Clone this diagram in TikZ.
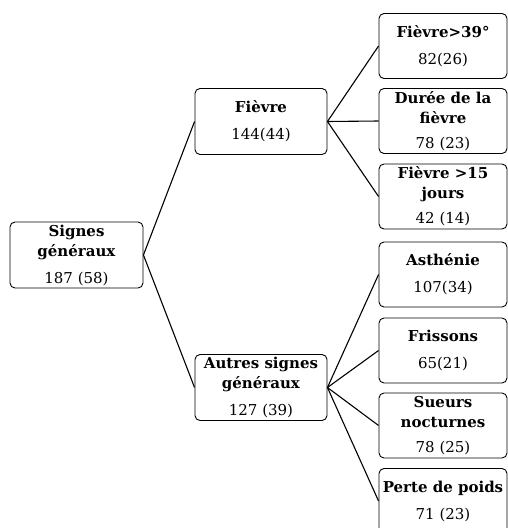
\documentclass[tikz,border=0pt]{standalone}
\usepackage{fontspec}
\setmainfont{DejaVu Serif}
\begin{document}
\begin{tikzpicture}[x=1pt,y=-1pt,
  box/.style={draw=black, line width=0.9pt, rounded corners=5pt, align=center, inner sep=0pt, font=\fontsize{15}{20}\selectfont},
  lbox/.style={box, minimum width=133pt, minimum height=66pt},
  mbox/.style={box, minimum width=132pt, minimum height=66pt},
  rbox/.style={box, minimum width=128pt, minimum height=65pt},
  link/.style={line width=1.1pt}]
\useasboundingbox (0,0) rectangle (508,528);
\node[lbox] (sg) at (76.5,255) {\textbf{Signes}\\\textbf{généraux}\\[7pt]187 (58)};
\node[mbox] (fv) at (261,121.5) {\textbf{Fièvre}\\[7pt]144(44)};
\node[mbox] (au) at (261,387.5) {\textbf{Autres signes}\\\textbf{généraux}\\[7pt]127 (39)};
\node[rbox] (f39) at (443,46) {\textbf{Fièvre>39°}\\[7pt]82(26)};
\node[rbox] (du) at (443,121) {\textbf{Durée de la}\\\textbf{fièvre}\\[5pt]78 (23)};
\node[rbox] (f15) at (443,196.5) {\textbf{Fièvre >15}\\\textbf{jours}\\[5pt]42 (14)};
\node[rbox] (as) at (443,274.5) {\textbf{Asthénie}\\[7pt]107(34)};
\node[rbox] (fr) at (443,350.5) {\textbf{Frissons}\\[7pt]65(21)};
\node[rbox] (su) at (443,425.5) {\textbf{Sueurs}\\\textbf{nocturnes}\\[5pt]78 (25)};
\node[rbox] (pp) at (443,501) {\textbf{Perte de poids}\\[7pt]71 (23)};
\draw[link] (sg.east) -- (fv.west);
\draw[link] (sg.east) -- (au.west);
\foreach \t in {f39,du,f15} \draw[link] (fv.east) -- (\t.west);
\foreach \t in {as,fr,su,pp} \draw[link] (au.east) -- (\t.west);
\end{tikzpicture}
\end{document}
